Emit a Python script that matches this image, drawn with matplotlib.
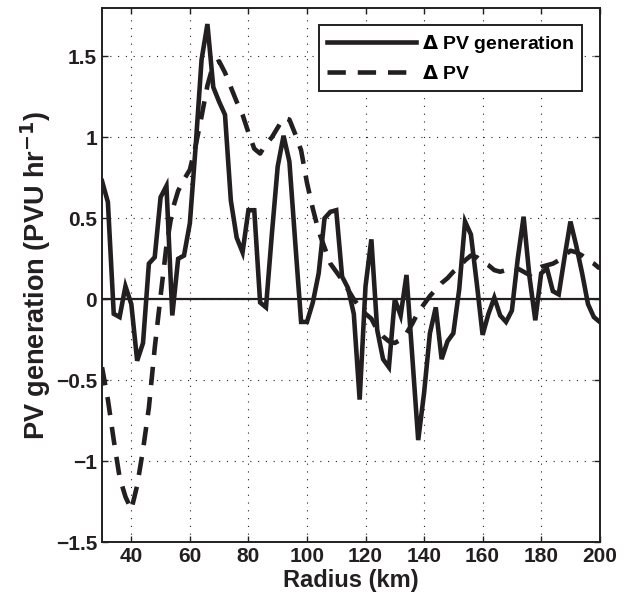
import numpy as np
import matplotlib
matplotlib.use('Agg')
import matplotlib.pyplot as plt

plt.rcParams['font.family'] = ['Liberation Sans', 'DejaVu Sans']
plt.rcParams['font.weight'] = 'bold'

radius = np.arange(30, 201, 2)

pv_gen = [0.73, 0.60, -0.09, -0.11, 0.08, -0.03, -0.38, -0.27, 0.22, 0.26,
          0.63, 0.70, -0.10, 0.25, 0.27, 0.47, 0.95, 1.48, 1.70, 1.31,
          1.22, 1.14, 0.61, 0.38, 0.29, 0.55, 0.55, -0.02, -0.05, 0.40,
          0.82, 1.01, 0.85, 0.35, -0.14, -0.14, -0.02, 0.16, 0.50, 0.54,
          0.55, 0.14, 0.07, -0.09, -0.62, 0.08, 0.37, -0.19, -0.37, -0.42,
          0.00, -0.10, 0.15, -0.36, -0.87, -0.58, -0.21, -0.05, -0.37, -0.26,
          -0.21, 0.06, 0.48, 0.40, 0.10, -0.22, -0.09, 0.01, -0.10, -0.14,
          -0.07, 0.25, 0.51, 0.14, -0.13, 0.16, 0.19, 0.05, 0.03, 0.26,
          0.48, 0.33, 0.16, -0.03, -0.11, -0.14]

delta_pv = [-0.42, -0.62, -0.87, -1.10, -1.22, -1.30, -1.15, -0.93, -0.67, -0.30,
            0.02, 0.33, 0.55, 0.67, 0.74, 0.80, 0.95, 1.13, 1.32, 1.45,
            1.47, 1.40, 1.31, 1.22, 1.14, 1.03, 0.93, 0.90, 0.96, 1.00,
            1.06, 1.12, 1.11, 1.02, 0.92, 0.72, 0.56, 0.42, 0.32, 0.22,
            0.17, 0.12, 0.06, 0.00, -0.05, -0.09, -0.12, -0.19, -0.23, -0.26,
            -0.27, -0.25, -0.21, -0.15, -0.08, -0.03, 0.02, 0.06, 0.10, 0.13,
            0.17, 0.20, 0.24, 0.27, 0.26, 0.23, 0.21, 0.18, 0.17, 0.18,
            0.20, 0.19, 0.17, 0.15, 0.18, 0.20, 0.21, 0.22, 0.24, 0.27,
            0.30, 0.29, 0.27, 0.24, 0.22, 0.19]

xticks = [40, 60, 80, 100, 120, 140, 160, 180, 200]
yticks = [-1.5, -1, -0.5, 0, 0.5, 1, 1.5]
ytick_labels = ['\u22121.5', '\u22121', '\u22120.5', '0', '0.5', '1', '1.5']

ink = '#231f20'

fig = plt.figure(figsize=(6.26, 6.05), dpi=100)
ax = fig.add_axes([0.163, 0.104, 0.795, 0.883])

ax.axhline(0, color=ink, linewidth=1.6, zorder=2)
ax.plot(radius, pv_gen, color=ink, linewidth=3.3, solid_joinstyle='miter',
        label='$\\Delta$ PV generation', zorder=3)
ax.plot(radius, delta_pv, color=ink, linewidth=3.3, linestyle=(0, (4, 2.6)),
        label='$\\Delta$ PV', zorder=3)

ax.set_xlim(30, 200)
ax.set_ylim(-1.5, 1.8)
ax.set_xticks(xticks)
ax.set_yticks(yticks)
ax.set_yticklabels(ytick_labels)
ax.grid(True, color=ink, linestyle=(0, (1, 6)), linewidth=0.8)

ax.tick_params(direction='in', top=True, right=True, length=4, width=1,
               labelsize=15, colors=ink)
for s in ax.spines.values():
    s.set_linewidth(1.4)
    s.set_color(ink)

ax.set_xlabel('Radius (km)', fontsize=17, fontweight='bold', color=ink,
              labelpad=2)
ax.set_ylabel('PV generation (PVU hr$^{\\mathbf{-1}}$)', fontsize=19.5,
              fontweight='bold', color=ink, labelpad=2)

leg = ax.legend(loc='upper right', fontsize=14, handlelength=4.6,
                fancybox=False, edgecolor=ink, framealpha=1,
                borderaxespad=0.9, handletextpad=0.3)
leg.get_frame().set_linewidth(1.4)

fig.savefig('out.png', dpi=100)
